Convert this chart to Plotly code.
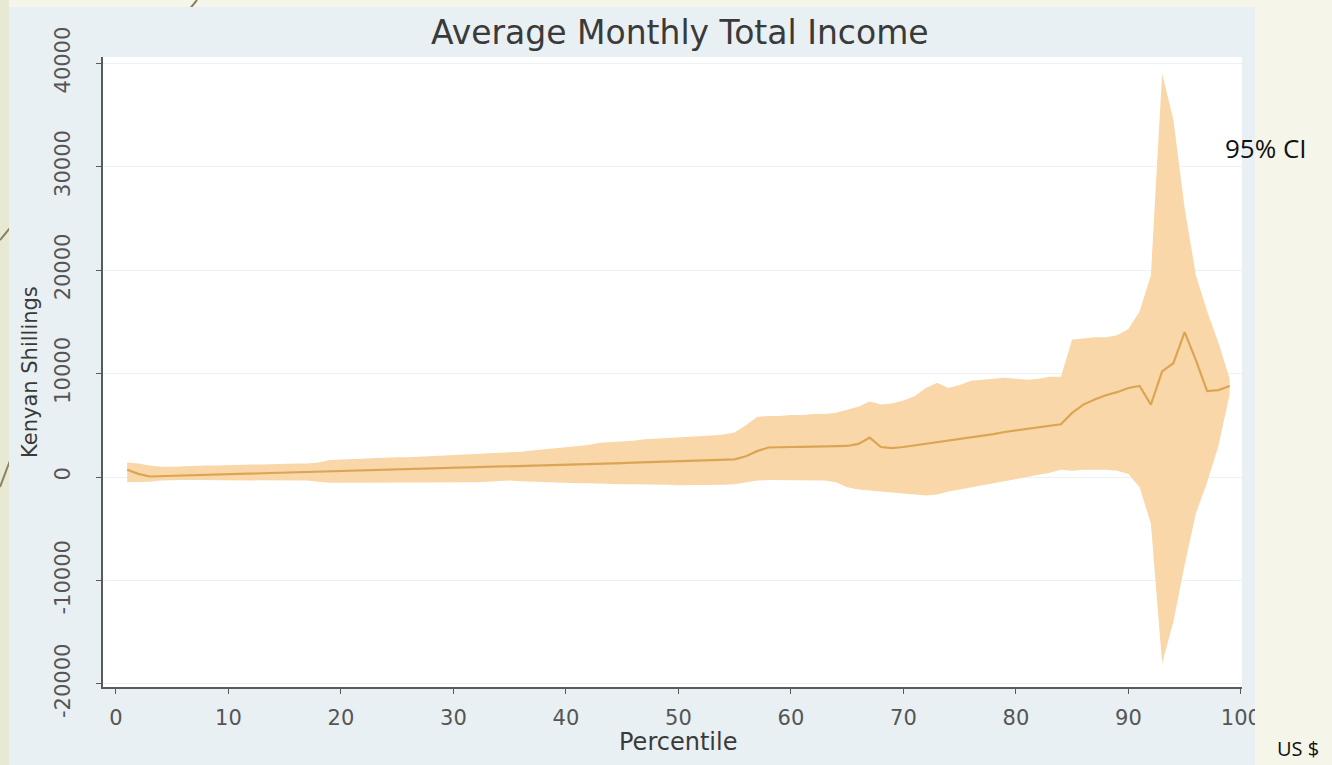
import plotly.graph_objects as go

# ---------------- data ----------------
percentile = list(range(1, 100))

mean_income = [
    700, 300, 50, 80, 120, 150, 180, 210, 240, 260,
    290, 310, 330, 350, 380, 410, 440, 470, 500, 530,
    560, 590, 620, 650, 680, 710, 740, 770, 800, 830,
    860, 890, 920, 950, 980, 1010, 1050, 1080, 1110, 1150,
    1190, 1230, 1270, 1310, 1350, 1390, 1430, 1470, 1510, 1550,
    1590, 1620, 1650, 1670, 1700, 2000, 2500, 2850, 2900, 2900,
    2920, 2950, 2980, 3000, 3000, 3200, 3800, 2900, 2800, 2900,
    3050, 3200, 3400, 3550, 3700, 3850, 4000, 4150, 4350, 4500,
    4650, 4800, 4900, 5100, 6200, 7000, 7500, 7900, 8200, 8600,
    8800, 7000, 10200, 11000, 14000, 11300, 8300, 8400, 8800,
]

ci_upper = [
    1400, 1300, 1100, 1000, 1000, 1050, 1050, 1100, 1100, 1150,
    1150, 1200, 1200, 1250, 1250, 1300, 1300, 1400, 1650, 1700,
    1750, 1800, 1800, 1850, 1900, 1900, 1950, 2000, 2050, 2100,
    2150, 2200, 2250, 2300, 2350, 2450, 2550, 2650, 2750, 2850,
    2950, 3100, 3300, 3350, 3400, 3500, 3650, 3700, 3800, 3850,
    3900, 3950, 4000, 4100, 4300, 5000, 5800, 5900, 5900, 6000,
    6000, 6100, 6100, 6200, 6500, 6800, 7300, 7000, 7100, 7400,
    7800, 8600, 9100, 8600, 8900, 9300, 9400, 9500, 9600, 9500,
    9400, 9500, 9700, 9700, 13300, 13400, 13500, 13500, 13700, 14300,
    16000, 19500, 39000, 34500, 26000, 19500, 16000, 13000, 9500,
]

ci_lower = [
    -500, -500, -450, -350, -300, -300, -300, -300, -300, -300,
    -300, -300, -300, -300, -300, -300, -350, -450, -550, -550,
    -550, -550, -550, -550, -550, -550, -550, -550, -550, -550,
    -500, -500, -450, -400, -350, -400, -450, -500, -550, -550,
    -600, -600, -650, -650, -700, -700, -700, -750, -750, -800,
    -800, -800, -750, -750, -700, -500, -350, -300, -300, -300,
    -300, -300, -350, -500, -1000, -1200, -1300, -1400, -1500, -1600,
    -1700, -1800, -1700, -1400, -1200, -1000, -800, -600, -400, -200,
    0, 200, 400, 700, 600, 700, 700, 700, 600, 300,
    -1000, -4500, -18000, -14000, -8500, -3500, -500, 3000, 8000,
]

x_ticks = [0, 10, 20, 30, 40, 50, 60, 70, 80, 90, 100]
x_tick_labels = ["0", "10", "20", "30", "40", "50", "60", "70", "80", "90", "100"]
y_ticks = [-20000, -10000, 0, 10000, 20000, 30000, 40000]
y_tick_labels = ["-20000", "-10000", "0", "10000", "20000", "30000", "40000"]

title_text = "Average Monthly Total Income"
y_title = "Kenyan Shillings"
x_title = "Percentile"

# ---------------- layout geometry (pixels) ----------------
W, H = 1332, 765
L, R, T, B = 103, 90, 57, 78
PW, PH = W - L - R, H - T - B


def px(X):
    return (X - L) / PW


def py(Y):
    return (H - B - Y) / PH


SLIDE = "#f5f5ea"
STRIP = "#e7e9d3"
CHART_BG = "#e9f0f3"
BAND = "#f9d7a8"
LINE = "#dca553"
TXT = "#3a3a3a"

fig = go.Figure()

fig.add_trace(go.Scatter(
    x=percentile, y=ci_upper, mode="lines",
    line=dict(width=0, color=BAND), showlegend=False, hoverinfo="skip",
))
fig.add_trace(go.Scatter(
    x=percentile, y=ci_lower, mode="lines", fill="tonexty",
    fillcolor=BAND, line=dict(width=0, color=BAND), showlegend=False,
    hoverinfo="skip",
))
fig.add_trace(go.Scatter(
    x=percentile, y=mean_income, mode="lines",
    line=dict(width=2.2, color=LINE), showlegend=False,
))

shapes = [
    # left green strip of the slide
    dict(type="rect", xref="paper", yref="paper", x0=px(0), x1=px(9),
         y0=py(H), y1=py(0), fillcolor=STRIP, line=dict(width=0), layer="below"),
    # slide decoration lines
    dict(type="line", xref="paper", yref="paper", x0=px(197), y0=py(0),
         x1=px(0), y1=py(240), line=dict(color="#8c7f62", width=2), layer="below"),
    dict(type="line", xref="paper", yref="paper", x0=px(45), y0=py(368),
         x1=px(0), y1=py(487), line=dict(color="#8c7f62", width=2), layer="below"),
    # chart picture background
    dict(type="rect", xref="paper", yref="paper", x0=px(9), x1=px(1255),
         y0=py(H), y1=py(7), fillcolor=CHART_BG, line=dict(width=0), layer="below"),
    # white plot region
    dict(type="rect", xref="paper", yref="paper", x0=0, x1=1, y0=0, y1=1,
         fillcolor="#ffffff", line=dict(width=0), layer="below"),
    # slide area to the right of the picture (clips the last tick label)
    dict(type="rect", xref="paper", yref="paper", x0=px(1255), x1=px(W),
         y0=py(H), y1=py(0), fillcolor=SLIDE, line=dict(width=0), layer="above"),
]

annotations = [
    dict(text=title_text, xref="paper", yref="paper", x=px(680), y=py(33),
         showarrow=False, font=dict(family="DejaVu Sans", size=33, color=TXT),
         xanchor="center", yanchor="middle"),
    dict(text=y_title, xref="paper", yref="paper", x=px(30), y=py(372),
         showarrow=False, textangle=-90,
         font=dict(family="DejaVu Sans", size=21, color=TXT),
         xanchor="center", yanchor="middle"),
    dict(text=x_title, xref="paper", yref="paper", x=px(678), y=py(742),
         showarrow=False, font=dict(family="DejaVu Sans", size=24, color=TXT),
         xanchor="center", yanchor="middle"),
    dict(text="95% CI", xref="paper", yref="paper", x=px(1223), y=py(148),
         showarrow=False, font=dict(family="Open Sans", size=26, color="#111111"),
         xanchor="left", yanchor="middle"),
    dict(text="US $", xref="paper", yref="paper", x=px(1275), y=py(764),
         showarrow=False, font=dict(family="Open Sans", size=20, color="#111111"),
         xanchor="left", yanchor="bottom"),
]

fig.update_layout(
    width=W, height=H,
    margin=dict(l=L, r=R, t=T, b=B, pad=0),
    paper_bgcolor=SLIDE,
    plot_bgcolor="#ffffff",
    shapes=shapes,
    annotations=annotations,
    showlegend=False,
)

fig.update_xaxes(
    range=[-1.15, 100.1], tickvals=x_ticks, ticktext=x_tick_labels,
    showgrid=False, zeroline=False, showline=True, linecolor="#5a5a5a",
    linewidth=1.5, ticks="outside", ticklen=5, tickcolor="#5a5a5a",
    tickfont=dict(family="DejaVu Sans", size=21, color="#555555"),
    ticklabelstandoff=6,
)
fig.update_yaxes(
    range=[-20300, 40600], tickvals=y_ticks, ticktext=y_tick_labels,
    showgrid=True, gridcolor="#eef1f4", gridwidth=1, zeroline=False,
    showline=True, linecolor="#5a5a5a", linewidth=1.5, ticks="outside",
    ticklen=5, tickcolor="#5a5a5a", tickangle=-90,
    tickfont=dict(family="DejaVu Sans", size=21, color="#555555"),
    ticklabelstandoff=18,
)

fig.write_html("out.html")
